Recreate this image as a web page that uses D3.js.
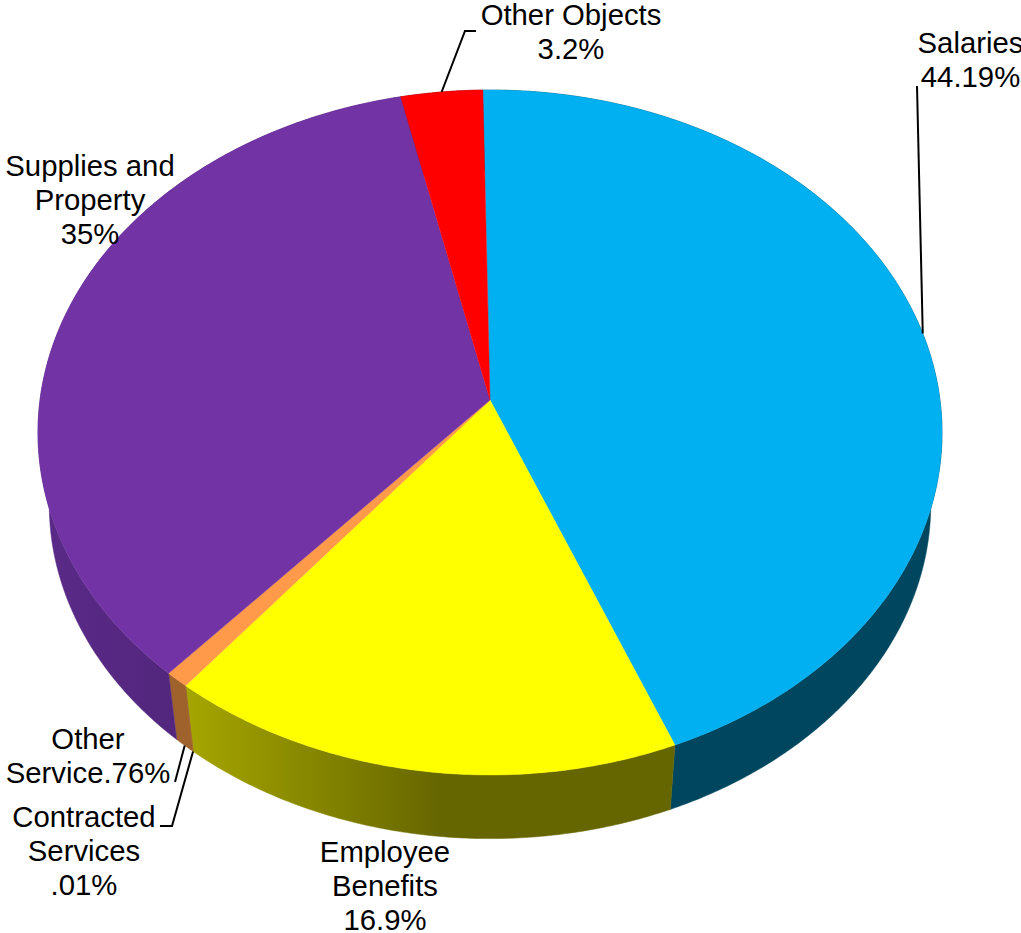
<!DOCTYPE html>
<html>
<head>
<meta charset="utf-8">
<style>
  html, body { margin: 0; padding: 0; background: #fff; overflow: hidden; }
  svg { display: block; }
  text { font-family: "Liberation Sans", Arial, sans-serif; font-size: 29.3px; fill: #000; }
</style>
<script src="https://cdn.jsdelivr.net/npm/d3@7/dist/d3.min.js"></script>
</head>
<body>
<svg id="chart" width="1021" height="933"></svg>
<script>
// Budget shares by object of expenditure, clockwise from the top of the disk.
const categories = ["Salaries", "Employee Benefits", "Contracted Services", "Other Service", "Supplies and Property", "Other Objects"];
const shares = [44.19, 16.9, 0.01, 0.76, 35, 3.2];
const topColors = ["#00B0F0", "#FFFF00", "#FF9A4A", "#FF9A4A", "#7233A4", "#FF0000"];
const wallStops = [
  ["#00465F", "#00465F"],
  ["#A6A600", "#666600"],
  ["#A0622D", "#A0622D"],
  ["#A0622D", "#A0622D"],
  ["#5A2A88", "#47206B"],
  ["#660000", "#660000"]
];

// Perspective disk: a tilted circle projected about its centre.
const view = { cx: 490, cy: 400, a: 450, b: 339.4, k: 0.0949, depth: 73, shrink: 0.975 };
const toRad = Math.PI / 180;

function rim(angle, lower) {
  const u = Math.sin(angle), v = -Math.cos(angle), w = 1 - view.k * v;
  const x = view.a * u / w, y = view.b * v / w;
  return lower
    ? [view.cx + x * view.shrink, view.cy + view.depth + y * view.shrink]
    : [view.cx + x, view.cy + y];
}

const pie = d3.pie().value(d => d).sort(null).startAngle(-1 * toRad).endAngle(359.8 * toRad);
const arcs = pie(shares).map((d, i) => ({ ...d, i, name: categories[i] }));

const svg = d3.select("#chart");
const defs = svg.append("defs");
const line = d3.line();

function arcPoints(a0, a1, lower) {
  const n = Math.max(2, Math.ceil(Math.abs(a1 - a0) / (0.5 * toRad)));
  return d3.range(n + 1).map(j => rim(a0 + (a1 - a0) * j / n, lower));
}

// Side walls: the front ones show, the back ones end up under the top face.
arcs.forEach(d => {
  const upper = arcPoints(d.startAngle, d.endAngle, false);
  const lower = arcPoints(d.endAngle, d.startAngle, true);
  const xs = upper.map(p => p[0]);
  const grad = defs.append("linearGradient")
    .attr("id", "wall" + d.i)
    .attr("gradientUnits", "userSpaceOnUse")
    .attr("x1", d3.min(xs)).attr("x2", d.i === 1 ? 440 : d3.max(xs))
    .attr("y1", 0).attr("y2", 0);
  grad.append("stop").attr("offset", 0).attr("stop-color", wallStops[d.i][0]);
  grad.append("stop").attr("offset", 1).attr("stop-color", wallStops[d.i][1]);
  svg.append("path")
    .attr("d", line(upper.concat(lower)) + "Z")
    .attr("fill", `url(#wall${d.i})`)
    .attr("stroke", `url(#wall${d.i})`)
    .attr("stroke-width", 0.5);
});

// Top face
arcs.forEach(d => {
  const pts = [[view.cx, view.cy]].concat(arcPoints(d.startAngle, d.endAngle, false));
  svg.append("path")
    .attr("d", line(pts) + "Z")
    .attr("fill", topColors[d.i])
    .attr("stroke", topColors[d.i])
    .attr("stroke-width", 0.4);
});

// Leader lines start from a slice's rim and run out to the label.
const leaderOut = {
  "Salaries": { lower: false, route: [[917, 86]] },
  "Other Objects": { lower: false, route: [[465, 31], [476, 31]] },
  "Other Service": { lower: true, route: [[175, 782]] },
  "Contracted Services": { lower: true, route: [[172, 826], [160, 826]] }
};
arcs.filter(d => leaderOut[d.name]).forEach(d => {
  const spec = leaderOut[d.name];
  const mid = (d.startAngle + d.endAngle) / 2;
  svg.append("path")
    .attr("d", line([rim(mid, spec.lower)].concat(spec.route)))
    .attr("fill", "none")
    .attr("stroke", "#000")
    .attr("stroke-width", 2);
});

// Labels
const labelLines = {
  "Salaries": ["Salaries", "44.19%"],
  "Employee Benefits": ["Employee", "Benefits", "16.9%"],
  "Contracted Services": ["Contracted", "Services", ".01%"],
  "Other Service": ["Other", "Service.76%"],
  "Supplies and Property": ["Supplies and", "Property", "35%"],
  "Other Objects": ["Other Objects", "3.2%"]
};
const labelAt = {
  "Salaries": [970.5, 52.6],
  "Employee Benefits": [385, 862],
  "Contracted Services": [84, 827],
  "Other Service": [88, 749],
  "Supplies and Property": [90, 175.6],
  "Other Objects": [571, 25]
};
Object.keys(labelLines).forEach(name => {
  const [x, y] = labelAt[name];
  const t = svg.append("text").attr("text-anchor", "middle");
  labelLines[name].forEach((s, j) => {
    t.append("tspan").attr("x", x).attr("y", y + j * 34).text(s);
  });
});
</script>
</body>
</html>
